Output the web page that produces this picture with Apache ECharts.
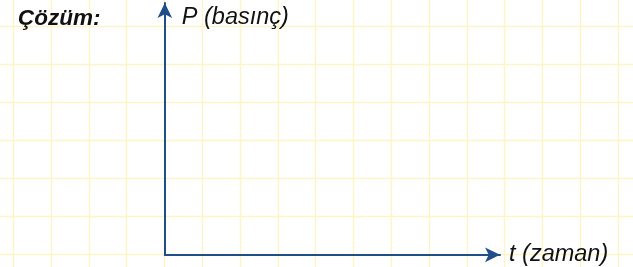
<!DOCTYPE html>
<html><head><meta charset="utf-8">
<script src="https://cdn.jsdelivr.net/npm/echarts@6/dist/echarts.min.js"></script>
<style>html,body{margin:0;padding:0;background:#fff}#c{width:633px;height:267px}</style>
</head><body><div id="c"></div>
<script>
// Texts
const titleText = 'Çözüm:';
const yAxisName = 'P (basınç)';
const xAxisName = 't (zaman)';
// Background squared paper (in grid units)
const paperX = [0, 18];
const paperY = [0, 8];
// Empty answer axes (no data plotted in reference)
const axisX = [0, 10];
const axisY = [0, 10];
const seriesData = [];

const axisColor = '#1f4e89';
const paperColor = '#fff4c6';
const font = 'Liberation Sans';

const chart = echarts.init(document.getElementById('c'), null, {renderer: 'canvas'});
const hidden = {axisLine: {show: false}, axisTick: {show: false}, axisLabel: {show: false}};
chart.setOption({
  animation: false,
  title: {
    text: titleText, left: 13, top: 2,
    textStyle: {fontFamily: font, fontSize: 22.5, fontWeight: 'bold', fontStyle: 'italic', color: '#111'}
  },
  grid: [
    {left: -24.5, top: -11.3, width: 18 * 37.8, height: 8 * 37.9, outerBoundsMode: 'none', containLabel: false},
    {left: 164.8, right: 133, top: 3, bottom: 12.2, outerBoundsMode: 'none', containLabel: false}
  ],
  xAxis: [
    Object.assign({gridIndex: 0, type: 'value', min: paperX[0], max: paperX[1], interval: 1,
      splitLine: {show: true, lineStyle: {color: paperColor, width: 1.4}}}, hidden),
    {gridIndex: 1, type: 'value', min: axisX[0], max: axisX[1],
      axisLine: {show: true, onZero: false, symbol: ['none', 'arrow'], symbolSize: [11, 15],
        lineStyle: {color: axisColor, width: 2}},
      axisTick: {show: false}, axisLabel: {show: false}, splitLine: {show: false},
      name: xAxisName, nameLocation: 'end', nameGap: 9,
      nameTextStyle: {fontFamily: font, fontSize: 23.5, fontStyle: 'italic', color: '#111', align: 'left', verticalAlign: 'middle'}}
  ],
  yAxis: [
    Object.assign({gridIndex: 0, type: 'value', min: paperY[0], max: paperY[1], interval: 1,
      splitLine: {show: true, lineStyle: {color: paperColor, width: 1.4}}}, hidden),
    {gridIndex: 1, type: 'value', min: axisY[0], max: axisY[1],
      axisLine: {show: true, onZero: false, symbol: ['none', 'arrow'], symbolSize: [11, 15],
        lineStyle: {color: axisColor, width: 2}},
      axisTick: {show: false}, axisLabel: {show: false}, splitLine: {show: false},
      name: yAxisName, nameLocation: 'end', nameGap: -14,
      nameTextStyle: {fontFamily: font, fontSize: 23.5, fontStyle: 'italic', color: '#111', align: 'left', verticalAlign: 'middle', padding: [0, 0, 0, 17]}}
  ],
  series: [{type: 'line', xAxisIndex: 1, yAxisIndex: 1, data: seriesData}]
});
</script></body></html>
